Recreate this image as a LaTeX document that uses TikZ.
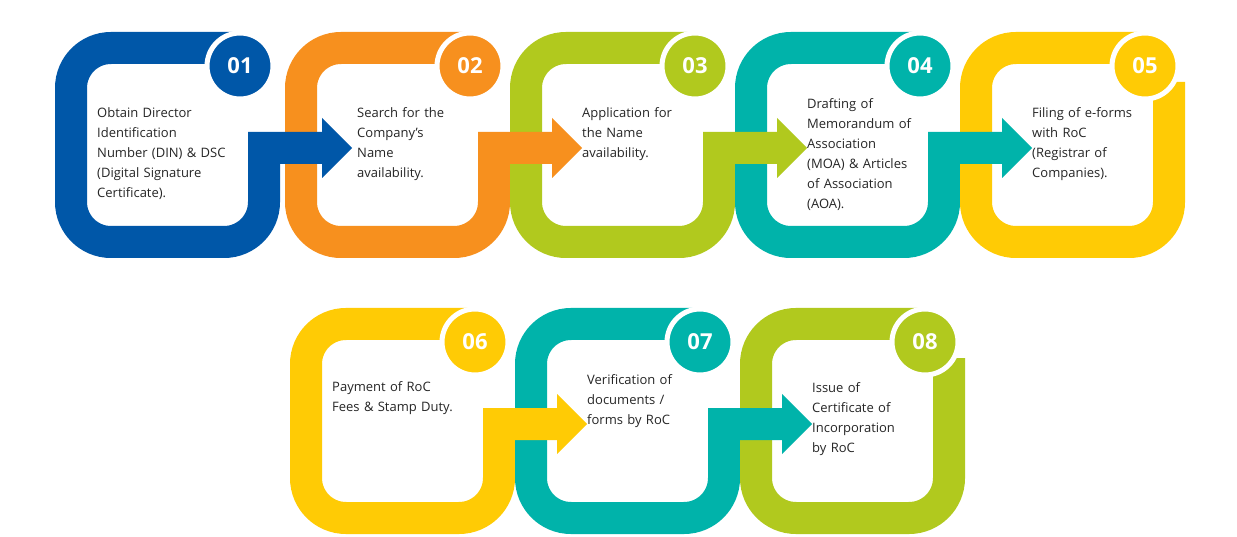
\documentclass[tikz,border=0pt]{standalone}
\usepackage{fontspec}
\setmainfont{Open Sans}
\definecolor{cblue}{HTML}{0057A8}
\definecolor{corange}{HTML}{F7901E}
\definecolor{clime}{HTML}{B1C91E}
\definecolor{cteal}{HTML}{00B3AA}
\definecolor{cyellow}{HTML}{FFCB05}
\newcommand{\myring}[5]{% x y color last? name
  \begin{scope}[shift={(#1,#2)}]
  \ifnum#4=1
    \draw[line width=32pt,#3,rounded corners=40pt] (185,16) -- (16,16) -- (16,210) -- (209,210) -- (209,50);
  \else
    \draw[line width=32pt,#3,rounded corners=40pt] (185,16) -- (16,16) -- (16,210) -- (209,210) -- (209,116);
  \fi
  \end{scope}}
\newcommand{\myarrow}[3]{%
  \begin{scope}[shift={(#1,#2)}]
  \fill[#3] (193,100) -- (267,100) -- (267,86) -- (297,116) -- (267,146) -- (267,132) -- (193,132) -- cycle;
  \end{scope}}
\newcommand{\mynum}[5]{% x y color number text-y text
  \begin{scope}[shift={(#1,#2)}]
  \node[circle,fill=#3,draw=white,line width=5pt,minimum size=66pt,inner sep=0pt,text=white,font=\fontsize{22}{22}\selectfont\bfseries] (n#4) at (185,34) {#4};
  \node[anchor=north west,inner sep=0pt,text width=150pt,align=left,text=black!85,font=\fontsize{13}{20}\selectfont] (t#4) at (42,#5) {\strut #5text};
  \end{scope}}
\begin{document}
\begin{tikzpicture}[x=1pt,y=-1pt]
\useasboundingbox (0,0) rectangle (1237,537);
\fill[white] (0,0) rectangle (1237,537);
\myring{55}{32}{cblue}{0}{a}
\myring{285}{32}{corange}{0}{b}
\myring{510}{32}{clime}{0}{c}
\myring{735}{32}{cteal}{0}{d}
\myring{960}{32}{cyellow}{1}{e}
\myring{290}{308}{cyellow}{0}{f}
\myring{515}{308}{cteal}{0}{g}
\myring{740}{308}{clime}{1}{h}
\myarrow{55}{32}{cblue}
\myarrow{285}{32}{corange}
\myarrow{510}{32}{clime}
\myarrow{735}{32}{cteal}
\myarrow{290}{308}{cyellow}
\myarrow{515}{308}{cteal}
\tikzset{numc/.style={circle,draw=white,line width=5pt,minimum size=66pt,inner sep=0pt,text=white,font=\fontsize{22}{22}\selectfont\bfseries},
 desc/.style={anchor=north west,inner sep=0pt,text width=150pt,align=left,text=black!85,font=\fontsize{13}{20}\selectfont}}
\node[numc,fill=cblue] (n1) at (240,66) {01};
\node[numc,fill=corange] (n2) at (470,66) {02};
\node[numc,fill=clime] (n3) at (695,66) {03};
\node[numc,fill=cteal] (n4) at (920,66) {04};
\node[numc,fill=cyellow] (n5) at (1145,66) {05};
\node[numc,fill=cyellow] (n6) at (475,342) {06};
\node[numc,fill=cteal] (n7) at (700,342) {07};
\node[numc,fill=clime] (n8) at (925,342) {08};
\node[desc] (t1) at (97,107) {Obtain Director\\Identification\\Number (DIN) \& DSC\\(Digital Signature\\Certificate).};
\node[desc] (t2) at (357,107) {Search for the\\Company’s\\Name\\availability.};
\node[desc] (t3) at (582,107) {Application for\\the Name\\availability.};
\node[desc] (t4) at (807,98) {Drafting of\\Memorandum of\\Association\\(MOA) \& Articles\\of Association\\(AOA).};
\node[desc] (t5) at (1032,107) {Filing of e-forms\\with RoC\\(Registrar of\\Companies).};
\node[desc] (t6) at (332,381) {Payment of RoC\\Fees \& Stamp Duty.};
\node[desc] (t7) at (587,374) {Verification of\\documents /\\forms by RoC};
\node[desc] (t8) at (812,382) {Issue of\\Certificate of\\Incorporation\\by RoC};
\end{tikzpicture}
\end{document}
